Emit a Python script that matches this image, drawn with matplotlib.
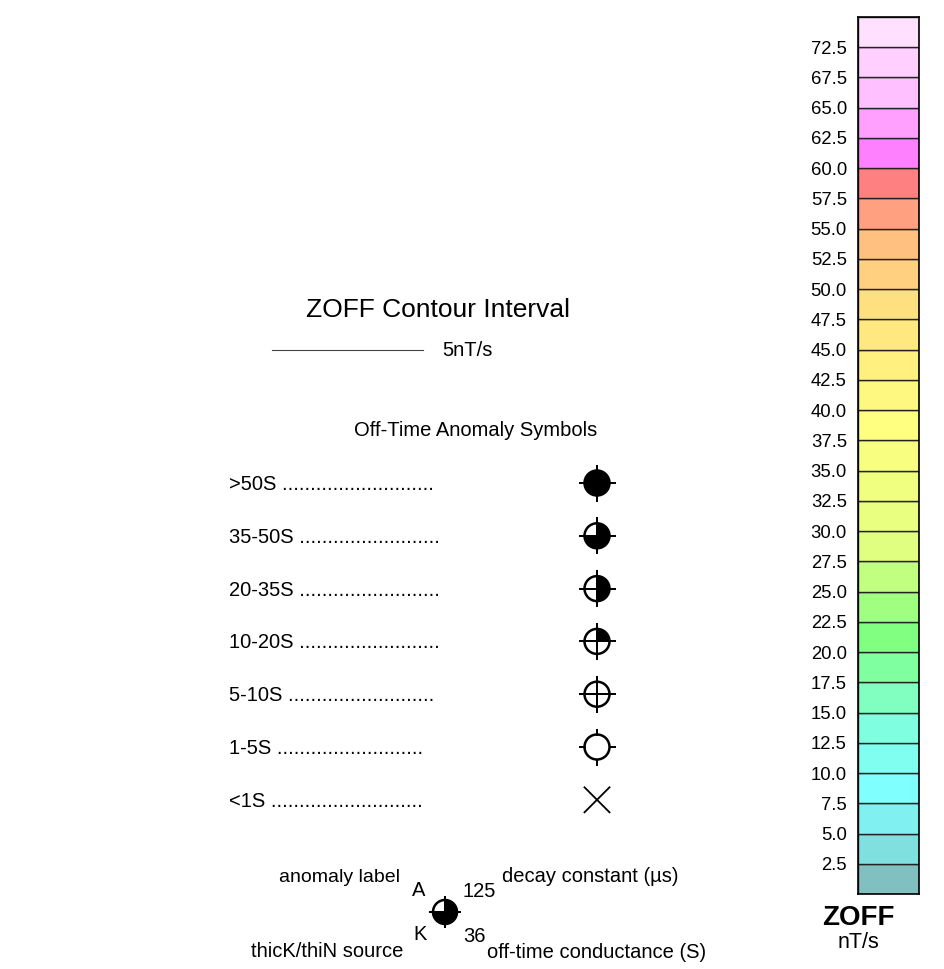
import matplotlib
matplotlib.use("Agg")
import matplotlib.pyplot as plt
from matplotlib.patches import Circle, Wedge

plt.rcParams['font.family'] = ['Liberation Sans', 'DejaVu Sans']

# colour classes of the ZOFF bar, bottom to top
bin_colors = ['#80C0C0', '#80E0E0', '#80F0F0', '#80FFFF', '#80FFF0', '#80FFE0',
              '#80FFC0', '#80FFA0', '#80FF80', '#A0FF80', '#C0FF80', '#E0FF80',
              '#E8FF80', '#F0FF80', '#F8FF80', '#FFFF80', '#FFF880', '#FFF080',
              '#FFE880', '#FFE080', '#FFD080', '#FFC080', '#FFA080', '#FF8080',
              '#FF80FF', '#FFA0FF', '#FFC0FF', '#FFD0FF', '#FFE0FF']
tick_labels = ['2.5', '5.0', '7.5', '10.0', '12.5', '15.0', '17.5', '20.0',
               '22.5', '25.0', '27.5', '30.0', '32.5', '35.0', '37.5', '40.0',
               '42.5', '45.0', '47.5', '50.0', '52.5', '55.0', '57.5', '60.0',
               '62.5', '65.0', '67.5', '72.5']

# anomaly symbol classes
classes = ['>50S', '35-50S', '20-35S', '10-20S', '5-10S', '1-5S', '<1S']
n_dots = [27, 25, 25, 25, 26, 26, 27]
quarters = [4, 3, 2, 1, 0, 0, None]     # None -> X symbol
inner_cross = [True, True, True, True, True, False, False]

W, H = 944, 969
fig = plt.figure(figsize=(W / 100, H / 100), dpi=100)
ax = fig.add_axes([0, 0, 1, 1])
ax.set_xlim(0, W)
ax.set_ylim(0, H)
ax.axis('off')


def Y(py):
    return H - py


def symbol(x, y, q, inner, r=12.5, arm=17.5, lw=1.8):
    if q is None:
        d = 12.5
        ax.plot([x - d, x + d], [y - d, y + d], color='black', lw=1.3)
        ax.plot([x - d, x + d], [y + d, y - d], color='black', lw=1.3)
        return
    ax.add_patch(Circle((x, y), r, facecolor='white', edgecolor='none'))
    if q > 0:
        ax.add_patch(Wedge((x, y), r, 90 - 90 * q, 90, facecolor='black',
                           edgecolor='none'))
    ax.add_patch(Circle((x, y), r, facecolor='none', edgecolor='black', lw=lw))
    if inner:
        ax.plot([x - arm, x + arm], [y, y], color='black', lw=lw * 0.8)
        ax.plot([x, x], [y - arm, y + arm], color='black', lw=lw * 0.8)
    else:
        for sx, sy in [(1, 0), (-1, 0), (0, 1), (0, -1)]:
            ax.plot([x + sx * r, x + sx * arm], [y + sy * r, y + sy * arm],
                    color='black', lw=lw * 0.8)


fs = 14.5
ax.text(437.5, Y(317), 'ZOFF Contour Interval', fontsize=19, ha='center',
        va='baseline')
ax.plot([272, 423], [Y(350), Y(350)], color='#444444', lw=0.8)
ax.text(442, Y(356), '5nT/s', fontsize=fs, ha='left', va='baseline')
ax.text(475.5, Y(436), 'Off-Time Anomaly Symbols', fontsize=fs, ha='center',
        va='baseline')

row0, step = 483, 52.8
for i, lab in enumerate(classes):
    cy = row0 + step * i
    ax.text(229, Y(cy + 7), lab + ' ' + '.' * n_dots[i], fontsize=fs,
            ha='left', va='baseline')
    symbol(597, Y(cy), quarters[i], inner_cross[i])

# explanation of annotated symbol
symbol(445, Y(912), 3, True, r=12, arm=15)
ax.text(400, Y(882), 'anomaly label', fontsize=14, ha='right', va='baseline')
ax.text(412, Y(896), 'A', fontsize=fs, ha='left', va='baseline')
ax.text(463, Y(897), '125', fontsize=fs, ha='left', va='baseline')
ax.text(502, Y(882), 'decay constant (\u00b5s)', fontsize=fs, ha='left',
        va='baseline')
ax.text(413, Y(940), 'K', fontsize=fs, ha='left', va='baseline')
ax.text(463, Y(942), '36', fontsize=fs, ha='left', va='baseline')
ax.text(403, Y(957), 'thicK/thiN source', fontsize=fs, ha='right',
        va='baseline')
ax.text(487, Y(958), 'off-time conductance (S)', fontsize=fs, ha='left',
        va='baseline')

# colour bar
cax = fig.add_axes([858 / W, (H - 894) / H, 61 / W, 877 / H])
cax.bar(0.5, 1, width=1, bottom=range(len(bin_colors)), color=bin_colors,
        edgecolor='#222222', linewidth=1.0)
cax.set_xlim(0, 1)
cax.set_ylim(0, len(bin_colors))
cax.set_xticks([])
cax.set_yticks(range(1, len(tick_labels) + 1))
cax.set_yticklabels(tick_labels, fontsize=13.3)
cax.tick_params(axis='y', length=0, pad=8)
for s in cax.spines.values():
    s.set_linewidth(1.2)

fig.text(858 / W, 1 - 925 / H, 'ZOFF', fontsize=20, fontweight='bold',
         ha='center', va='baseline')
fig.text(858 / W, 1 - 948 / H, 'nT/s', fontsize=15.5, ha='center',
         va='baseline')

fig.savefig('out.png', dpi=100)
